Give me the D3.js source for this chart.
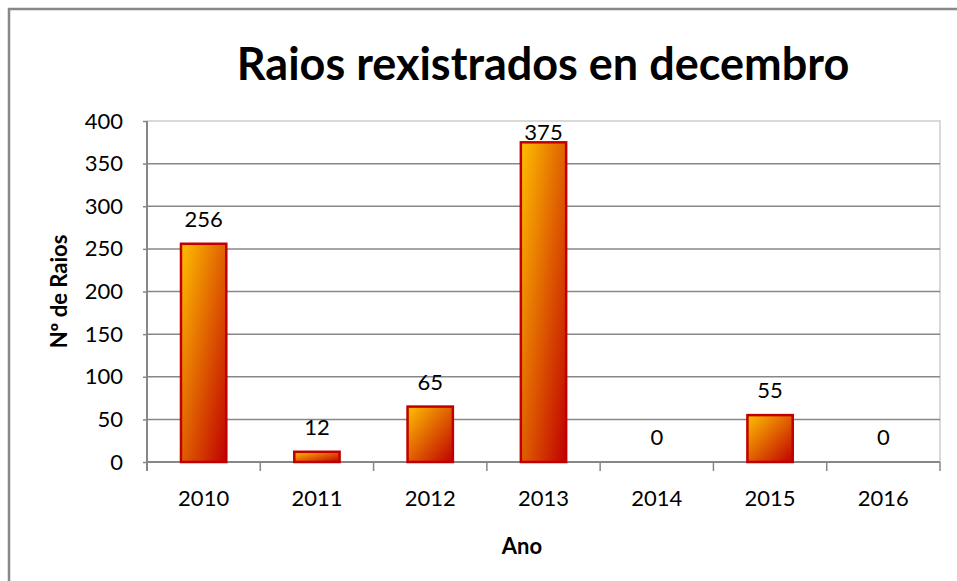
<!DOCTYPE html>
<html>
<head>
<meta charset="utf-8">
<script src="https://cdn.jsdelivr.net/npm/d3@7"></script>
<style>
  body { margin: 0; background: #fff; }
  text { font-family: Lato, "Open Sans", sans-serif; }
</style>
</head>
<body>
<svg width="957" height="581"></svg>
<script>
const svg = d3.select('svg');
const width = +svg.attr('width');
const height = +svg.attr('height');

// data
const years = ['2010', '2011', '2012', '2013', '2014', '2015', '2016'];
const raios = [256, 12, 65, 375, 0, 55, 0];
const yTicks = [0, 50, 100, 150, 200, 250, 300, 350, 400];

const data = years.map((y, i) => ({ year: y, value: raios[i] }));

const margin = { top: 121, right: 17, bottom: 119, left: 147 };
const innerWidth = width - margin.left - margin.right;
const innerHeight = height - margin.top - margin.bottom;
const labelSize = 22;

// outer chart frame (runs off the right / bottom edge)
svg.append('path')
  .attr('d', `M9,${height + 5} V9 H${width + 5}`)
  .attr('fill', 'none')
  .attr('stroke', '#888')
  .attr('stroke-width', 2.5);

const defs = svg.append('defs');
const grad = defs.append('linearGradient')
  .attr('id', 'barGrad')
  .attr('x1', '0').attr('y1', '0')
  .attr('x2', '1').attr('y2', '1');
grad.append('stop').attr('offset', '0%').attr('stop-color', '#ffc000');
grad.append('stop').attr('offset', '100%').attr('stop-color', '#c00000');

const xScale = d3.scaleBand()
  .domain(years)
  .range([0, innerWidth])
  .paddingInner(0.6)
  .paddingOuter(0.3);

const yScale = d3.scaleLinear()
  .domain([0, 400])
  .range([innerHeight, 0]);

const g = svg.append('g')
  .attr('transform', `translate(${margin.left},${margin.top})`);

// plot area border (light)
g.append('path')
  .attr('d', `M0,0 H${innerWidth} V${innerHeight}`)
  .attr('fill', 'none')
  .attr('stroke', '#d9d9d9')
  .attr('stroke-width', 2);

// gridlines
g.selectAll('.grid').data(yTicks.filter(t => t > 0 && t < 400))
  .enter().append('line')
    .attr('class', 'grid')
    .attr('x1', 0).attr('x2', innerWidth)
    .attr('y1', d => yScale(d)).attr('y2', d => yScale(d))
    .attr('stroke', '#878787')
    .attr('stroke-width', 1.5);

// y axis
const yAxis = d3.axisLeft(yScale)
  .tickValues(yTicks)
  .tickSize(4)
  .tickPadding(20);
const yAxisGroup = g.append('g').call(yAxis);
yAxisGroup.select('.domain').remove();
yAxisGroup.selectAll('line').attr('stroke', '#878787').attr('stroke-width', 1.5);
yAxisGroup.selectAll('text')
  .attr('font-size', labelSize)
  .attr('font-family', 'Lato, sans-serif')
  .attr('fill', '#000');
g.append('line')
  .attr('x1', 0).attr('x2', 0)
  .attr('y1', 0).attr('y2', innerHeight + 9)
  .attr('stroke', '#878787')
  .attr('stroke-width', 2);

// x axis: ticks between categories
const step = xScale.step();
const xOuter = (innerWidth - step * years.length) / 2;
const bounds = d3.range(years.length + 1).map(i => xOuter + i * step);
g.append('line')
  .attr('x1', 0).attr('x2', innerWidth)
  .attr('y1', innerHeight).attr('y2', innerHeight)
  .attr('stroke', '#878787')
  .attr('stroke-width', 2);
g.selectAll('.xtick').data(bounds.slice(1))
  .enter().append('line')
    .attr('class', 'xtick')
    .attr('x1', d => d).attr('x2', d => d)
    .attr('y1', innerHeight).attr('y2', innerHeight + 9)
    .attr('stroke', '#878787')
    .attr('stroke-width', 1.5);
g.selectAll('.xlabel').data(years)
  .enter().append('text')
    .attr('class', 'xlabel')
    .attr('x', d => xScale(d) + xScale.bandwidth() / 2)
    .attr('y', innerHeight + 44)
    .attr('text-anchor', 'middle')
    .attr('font-size', labelSize)
    .text(d => d);

// bars
g.selectAll('rect.bar').data(data.filter(d => d.value > 0))
  .enter().append('rect')
    .attr('class', 'bar')
    .attr('x', d => xScale(d.year))
    .attr('y', d => yScale(d.value))
    .attr('width', xScale.bandwidth())
    .attr('height', d => innerHeight - yScale(d.value))
    .attr('fill', 'url(#barGrad)')
    .attr('stroke', '#c00000')
    .attr('stroke-width', 2.5);

// value labels (kept inside the plot area, like the original)
g.selectAll('.vlabel').data(data)
  .enter().append('text')
    .attr('class', 'vlabel')
    .attr('x', d => xScale(d.year) + xScale.bandwidth() / 2)
    .attr('y', d => Math.max(yScale(d.value) - 17, 19))
    .attr('text-anchor', 'middle')
    .attr('font-size', labelSize)
    .text(d => d.value);

// titles
svg.append('text')
  .attr('x', 543)
  .attr('y', 80)
  .attr('text-anchor', 'middle')
  .attr('font-size', 45)
  .attr('font-weight', 'bold')
  .text('Raios rexistrados en decembro');

svg.append('text')
  .attr('transform', `translate(67, ${margin.top + innerHeight / 2}) rotate(-90)`)
  .attr('text-anchor', 'middle')
  .attr('font-size', 22)
  .attr('font-weight', 'bold')
  .text('Nº de Raios');

svg.append('text')
  .attr('x', 522)
  .attr('y', 554)
  .attr('text-anchor', 'middle')
  .attr('font-size', 22)
  .attr('font-weight', 'bold')
  .text('Ano');
</script>
</body>
</html>
